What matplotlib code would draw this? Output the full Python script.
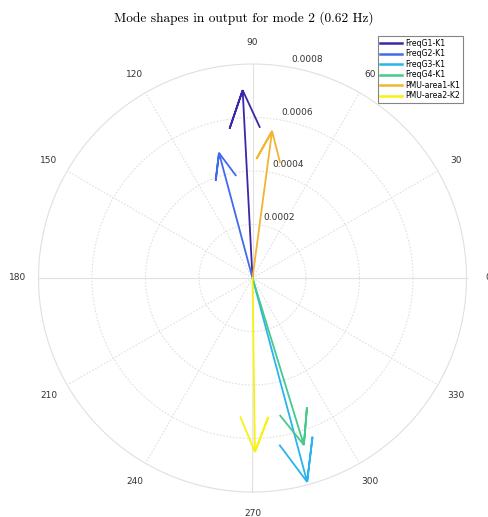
#!/usr/bin/env python3
"""
Compass plot of mode shapes (MATLAB-style) for mode 2.
"""

import numpy as np
import matplotlib
matplotlib.use("Agg")
import matplotlib.pyplot as plt

# Mode shape data (magnitude, angle in degrees)
names = ["FreqG1-K1", "FreqG2-K1", "FreqG3-K1", "FreqG4-K1", "PMU-area1-K1", "PMU-area2-K2"]
magnitudes = [0.000703, 0.000484, 0.000789, 0.000653, 0.000554, 0.000650]
angles_deg = [93.0, 105.0, 285.0, 287.1, 82.4, 270.8]
colors = ["#3e26a8", "#4169f0", "#2ab3ec", "#45c98c", "#f2b52f", "#f7f20f"]

ring_values = [0.0002, 0.0004, 0.0006, 0.0008]
ring_labels = ["0.0002", "0.0004", "0.0006", "0.0008"]
spoke_angles = [0, 30, 60, 90, 120, 150, 180, 210, 240, 270, 300, 330]
rmax = 0.0008


def compass_arrow(z):
    # MATLAB compass arrow shape, scaled/rotated by complex z
    xx = np.array([0, 1, .8, 1, .8])
    yy = np.array([0, 0, .08, 0, -.08])
    a = (xx + 1j * yy) * z
    return a.real, a.imag


W, H = 488, 517
cx, cy, R = 252.5, 278, 214.0
s = rmax / R  # data units per pixel

fig = plt.figure(figsize=(W / 100, H / 100), dpi=100)
ax = fig.add_axes([0, 0, 1, 1])
ax.set_xlim(-cx * s, (W - cx) * s)
ax.set_ylim(-(H - cy) * s, cy * s)
ax.axis("off")

grid_col = "#e0e0e0"
t = np.linspace(0, 2 * np.pi, 400)
for rv in ring_values:
    ls = "-" if rv == rmax else (0, (1.5, 1.5))
    ax.plot(rv * np.cos(t), rv * np.sin(t), color=grid_col, lw=0.8, ls=ls, zorder=1)

for ang in spoke_angles:
    th = np.deg2rad(ang)
    ls = "-" if ang % 90 == 0 else (0, (1.5, 1.5))
    ax.plot([0, rmax * np.cos(th)], [0, rmax * np.sin(th)], color=grid_col,
            lw=0.8, ls=ls, zorder=1)
    lr = rmax * 1.1
    ax.text(lr * np.cos(th), lr * np.sin(th), str(ang), ha="center", va="center",
            fontsize=6.5, color="#333333")

# radial labels along ~80 degrees
for rv, lab in zip(ring_values, ring_labels):
    th = np.deg2rad(80)
    rr = rv + 8 * s
    ax.text(rr * np.cos(th), rr * np.sin(th), lab, ha="left", va="center",
            fontsize=6.5, color="#333333")

for name, m, a, c in zip(names, magnitudes, angles_deg, colors):
    z = m * np.exp(1j * np.deg2rad(a))
    x, y = compass_arrow(z)
    ax.plot(x, y, color=c, lw=1.3, label=name, zorder=3, solid_joinstyle="miter")

leg = ax.legend(loc="upper right", bbox_to_anchor=(463 / W, 1 - 36 / H),
                bbox_transform=fig.transFigure, fontsize=5.6, frameon=True,
                fancybox=False, edgecolor="#666666", handlelength=2.8,
                handletextpad=0.4, borderpad=0.35, labelspacing=0.2,
                borderaxespad=0)
leg.get_frame().set_linewidth(0.8)
for line in leg.get_lines():
    line.set_linewidth(1.8)

fig.text(0.5, 1 - 18 / H, "Mode shapes in output for mode 2 (0.62 Hz)",
         ha="center", va="center", fontsize=9.6, family="cmr10")

fig.savefig("out.png", dpi=100)
